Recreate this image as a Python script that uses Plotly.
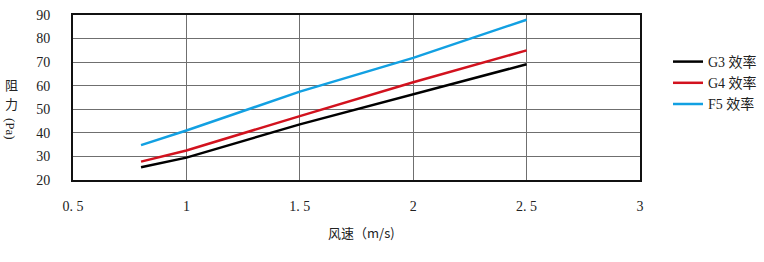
import plotly.graph_objects as go

wind_speed = [0.8, 1.0, 1.5, 2.0, 2.5]
g3_values = [25.4, 29.5, 43.6, 56.4, 69.1]
g4_values = [27.8, 32.5, 47.1, 61.5, 75.0]
f5_values = [34.8, 41.0, 57.5, 71.8, 88.0]

series_names = ["G3 效率", "G4 效率", "F5 效率"]
series_colors = ["#000000", "#D2121E", "#12A0E2"]

x_tickvals = [0.5, 1, 1.5, 2, 2.5, 3]
x_ticktext = ["0. 5", "1", "1. 5", "2", "2. 5", "3"]
y_tickvals = [20, 30, 40, 50, 60, 70, 80, 90]

serif = "Liberation Serif, Noto Sans CJK SC"
cjk = "Noto Sans CJK SC"
txt = "#222222"

fig = go.Figure()
for name, vals, col in zip(series_names, [g3_values, g4_values, f5_values], series_colors):
    fig.add_trace(go.Scatter(x=wind_speed, y=vals, mode="lines", name=name,
                             line=dict(color=col, width=2.5)))

W, H = 764, 262
L, R, T, B = 73, 640, 15, 180
pw, ph = R - L, B - T

def px(x):
    return (x - L) / pw

def py(y):
    return (B - y) / ph

fig.update_layout(
    width=W, height=H,
    margin=dict(l=L, r=W - R, t=T, b=H - B, autoexpand=False),
    paper_bgcolor="white", plot_bgcolor="white",
    font=dict(family=serif, size=14, color=txt),
    showlegend=True,
    legend=dict(x=px(668), y=py(46), xanchor="left", yanchor="top",
                font=dict(family=serif, size=14, color=txt),
                tracegroupgap=0, itemwidth=30, bgcolor="rgba(0,0,0,0)"),
    xaxis=dict(range=[0.5, 3], tickvals=x_tickvals, ticktext=x_ticktext,
               showgrid=True, gridcolor="#6f6f6f", gridwidth=1,
               showline=True, linecolor="#111111", linewidth=2, mirror=True,
               ticks="", ticklabelstandoff=12, zeroline=False,
               tickfont=dict(family=serif, size=14, color=txt)),
    yaxis=dict(range=[20, 90], tickvals=y_tickvals,
               showgrid=True, gridcolor="#6f6f6f", gridwidth=1,
               showline=True, linecolor="#111111", linewidth=2, mirror=True,
               ticks="", ticklabelstandoff=18, zeroline=False,
               tickfont=dict(family=serif, size=14, color=txt)),
)

annos = [
    dict(text="风速（m/s)", x=px(361), y=py(232), font=dict(family=cjk, size=13, color=txt)),
    dict(text="阻", x=px(11), y=py(85), font=dict(family=cjk, size=13, color=txt)),
    dict(text="力", x=px(11), y=py(104), font=dict(family=cjk, size=13, color=txt)),
    dict(text="(Pa)", x=px(11), y=py(129), textangle=90, font=dict(family=serif, size=13, color=txt)),
]
for a in annos:
    fig.add_annotation(xref="paper", yref="paper", showarrow=False,
                       xanchor="center", yanchor="middle", borderpad=0, **a)

fig.write_html("out.html")
